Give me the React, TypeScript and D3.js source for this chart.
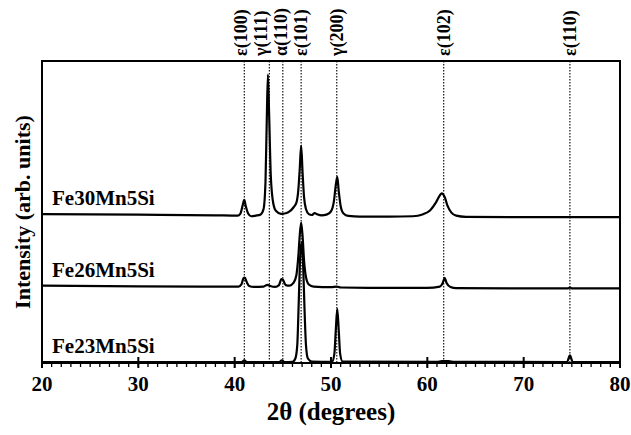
import React from 'react';
import * as d3 from 'd3';

// XRD patterns: [2θ, intensity (arb. units, stacked)]
const fe30: [number, number][] = [
  [20, 49.3], [30, 49.1], [38, 48.9], [40.3, 48.8], [40.6, 49.5], [40.85, 52.5], [41.0, 54.0],
  [41.15, 52.0], [41.4, 49.5], [41.7, 48.6], [42.2, 48.8], [42.7, 49.2], [43.0, 51], [43.2, 60],
  [43.33, 80], [43.45, 95.5], [43.58, 82], [43.75, 62], [44.0, 53], [44.3, 50.3], [44.8, 49.4],
  [45.3, 49.6], [45.7, 50.2], [46.1, 51.5], [46.4, 53], [46.6, 57], [46.75, 64], [46.9, 72],
  [47.05, 63], [47.2, 55], [47.4, 51], [47.7, 49.3], [48.0, 49.0], [48.3, 49.6], [48.6, 49.2],
  [49.0, 48.9], [49.6, 49.2], [50.0, 50.2], [50.3, 53.5], [50.5, 59], [50.65, 61.6], [50.8, 57],
  [51.0, 52], [51.3, 49.5], [51.8, 48.7], [53, 48.5], [56, 48.5], [58.5, 48.6], [59.5, 49.2],
  [60.3, 50.6], [60.9, 53.2], [61.3, 55.5], [61.5, 56.2], [61.8, 55], [62.1, 52], [62.5, 49.8],
  [63, 48.8], [64, 48.4], [70, 48.3], [80, 48.3],
];

const fe26: [number, number][] = [
  [20, 25.6], [30, 25.4], [40.4, 25.3], [40.7, 26], [40.9, 28], [41.05, 28.3], [41.25, 26.8],
  [41.5, 25.5], [42, 25.2], [43.0, 25.3], [43.4, 25.9], [43.7, 25.5], [44.2, 25.2], [44.6, 25.8],
  [44.85, 27.8], [45.0, 27.6], [45.3, 25.8], [45.7, 25.6], [46.1, 26.5], [46.4, 29], [46.6, 35],
  [46.75, 42], [46.9, 46.5], [47.05, 42], [47.2, 34], [47.4, 28.5], [47.7, 26], [48.2, 25.3],
  [50, 25.1], [50.6, 25.3], [51, 25], [55, 24.9], [60, 24.9], [61.3, 25.3], [61.6, 26.5],
  [61.8, 28.2], [62.0, 26.5], [62.4, 25.2], [63, 24.8], [70, 24.7], [74.6, 24.7], [74.8, 25.0],
  [75, 24.7], [80, 24.7],
];

const fe23: [number, number][] = [
  [20, 0.3], [40.7, 0.3], [41.0, 0.9], [41.3, 0.3], [44.6, 0.3], [44.9, 0.9], [45.2, 0.3],
  [46.0, 0.4], [46.3, 1.5], [46.5, 6], [46.65, 20], [46.8, 35], [46.95, 40], [47.1, 33],
  [47.25, 18], [47.4, 6], [47.6, 1.5], [48, 0.5], [50.1, 0.4], [50.35, 3], [50.5, 11],
  [50.65, 17.9], [50.8, 11], [50.95, 3], [51.2, 0.5], [61.0, 0.4], [61.5, 0.6], [62.2, 0.6],
  [62.8, 0.4], [74.5, 0.3], [74.8, 2.5], [75.1, 0.3], [80, 0.3],
];

const seriesNames = ['Fe30Mn5Si', 'Fe26Mn5Si', 'Fe23Mn5Si'];
const seriesData = [fe30, fe26, fe23];

// reflection markers
const peakNames = ['ε(100)', 'γ(111)', 'α(110)', 'ε(101)', 'γ(200)', 'ε(102)', 'ε(110)'];
const peakPositions = [41.0, 43.6, 45.0, 46.9, 50.6, 61.7, 74.8];

const xTickValues = [20, 30, 40, 50, 60, 70, 80];

const W = 631;
const H = 435;
const margin = { top: 61, right: 11, bottom: 72, left: 42 };
const FONT = '"Liberation Serif", "Times New Roman", serif';

export default function App() {
  const x = d3.scaleLinear().domain([20, 80]).range([margin.left, W - margin.right]);
  const y = d3.scaleLinear().domain([0, 100]).range([H - margin.bottom, margin.top]);
  const line = d3.line<[number, number]>()
    .x(d => x(d[0]))
    .y(d => y(d[1]))
    .curve(d3.curveMonotoneX);

  const x0 = x.range()[0];
  const x1 = x.range()[1];
  const yb = y.range()[0];
  const yt = y.range()[1];

  // spread crowded labels apart (right to left)
  const labelX = peakPositions.map(p => x(p));
  for (let i = labelX.length - 2; i >= 0; i--) {
    labelX[i] = Math.min(labelX[i], labelX[i + 1] - 20);
  }

  const minor = d3.range(20, 81, 1);

  return (
    <svg width={W} height={H} style={{ position: 'absolute', left: 0, top: 0, background: '#fff' }}
      fontFamily={FONT} fontWeight="bold">
      {/* reflection lines */}
      {peakPositions.map((p, i) => (
        <line key={'pl' + i} x1={x(p)} x2={x(p)} y1={yt} y2={yb}
          stroke="#000" strokeWidth={1.1} strokeDasharray="1.5,1.5" />
      ))}
      {peakNames.map((n, i) => (
        <text key={'pn' + i} transform={`translate(${labelX[i] + 6},${yt - 5}) rotate(-90)`}
          fontSize={18} fill="#000">{n}</text>
      ))}

      {/* patterns */}
      {seriesData.map((s, i) => (
        <path key={'s' + i} d={line(s) || ''} fill="none" stroke="#000" strokeWidth={2.2}
          strokeLinejoin="round" />
      ))}
      {seriesNames.map((n, i) => (
        <text key={'sn' + i} x={x0 + 10} y={y(seriesData[i][0][1]) - 9} fontSize={21} fill="#000">{n}</text>
      ))}

      {/* frame */}
      <rect x={x0} y={yt} width={x1 - x0} height={yb - yt} fill="none" stroke="#000" strokeWidth={2} />

      {/* x ticks */}
      {minor.map(v => (
        <line key={'mt' + v} x1={x(v)} x2={x(v)} y1={yb} y2={yb + 4} stroke="#000" strokeWidth={1.3} />
      ))}
      {xTickValues.map(v => (
        <g key={'t' + v}>
          <line x1={x(v)} x2={x(v)} y1={yb - 6} y2={yb + 5} stroke="#000" strokeWidth={2} />
          <text x={x(v)} y={yb + 28} textAnchor="middle" fontSize={21} fill="#000">{v}</text>
        </g>
      ))}

      {/* axis titles */}
      <text x={(x0 + x1) / 2} y={H - 15} textAnchor="middle" fontSize={25} fill="#000">2θ (degrees)</text>
      <text transform={`translate(30,${(yt + yb) / 2}) rotate(-90)`} textAnchor="middle" fontSize={22}
        fill="#000">Intensity (arb. units)</text>
    </svg>
  );
}
